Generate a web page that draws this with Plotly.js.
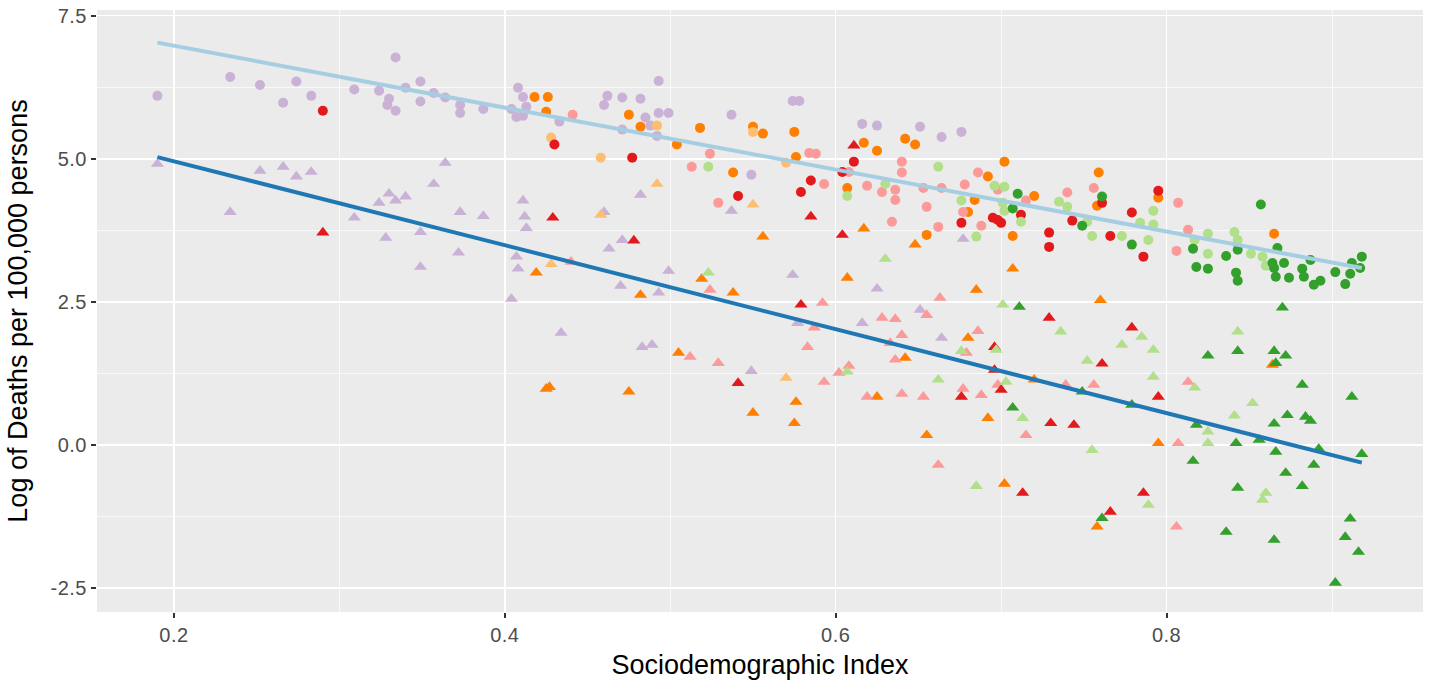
<!DOCTYPE html>
<html>
<head>
<meta charset="utf-8">
<script src="https://cdn.plot.ly/plotly-3.0.1.min.js"></script>
<style>
html,body{margin:0;padding:0;background:#fff;}
#chart{width:1430px;height:685px;}
#chart .xtick text, #chart .ytick text { letter-spacing: 0.5px; }
</style>
</head>
<body>
<div id="chart"></div>
<script>
// ---- Data ----
const xTicks = [0.2, 0.4, 0.6, 0.8];
const xTickText = ["0.2", "0.4", "0.6", "0.8"];
const yTicks = [-2.5, 0, 2.5, 5, 7.5];
const yTickText = ["-2.5", "0.0", "2.5", "5.0", "7.5"];

// Circles (upper group)
const purpleCircX = [0.190,0.234,0.252,0.274,0.266,0.283,0.309,0.324,0.334,0.330,0.329,0.334,0.340,0.349,0.349,0.357,0.364,0.373,0.373,0.387,0.408,0.411,0.413,0.404,0.407,0.411,0.433,0.462,0.460,0.471,0.482,0.493,0.493,0.499,0.485,0.488,0.471,0.492,0.537,0.549,0.574,0.578,0.616,0.625,0.651,0.664,0.676];
const purpleCircY = [6.10,6.43,6.29,6.35,5.98,6.10,6.21,6.19,6.77,6.05,5.94,5.84,6.24,6.35,6.00,6.15,6.07,5.94,5.80,5.87,6.24,6.08,5.91,5.87,5.73,5.75,5.65,6.10,5.94,6.07,6.05,6.36,5.80,5.80,5.72,5.58,5.51,5.40,5.77,4.72,6.01,6.01,5.61,5.58,5.56,5.38,5.47];

const orangeCircX = [0.418,0.426,0.425,0.475,0.482,0.504,0.518,0.538,0.550,0.556,0.575,0.576,0.617,0.625,0.607,0.642,0.648,0.692,0.684,0.680,0.655,0.702,0.720,0.707,0.759,0.758,0.795,0.865];
const orangeCircY = [6.08,6.08,5.82,5.77,5.56,5.25,5.54,4.76,5.56,5.44,5.47,5.03,5.28,5.14,4.49,5.35,5.25,4.69,4.28,4.07,3.67,4.95,4.35,3.65,4.76,4.18,4.32,3.69];

const lightOrangeCircX = [0.428,0.492,0.458,0.550,0.570];
const lightOrangeCircY = [5.37,5.58,5.02,5.47,4.93];

const redCircX = [0.290,0.430,0.477,0.541,0.585,0.579,0.604,0.611,0.676,0.712,0.695,0.698,0.700,0.729,0.729,0.743,0.761,0.766,0.779,0.786,0.795];
const redCircY = [5.84,5.25,5.02,4.35,4.62,4.42,4.77,4.95,3.88,4.02,3.97,3.93,3.88,3.71,3.46,3.92,4.23,3.65,4.06,3.29,4.44];

const pinkCircX = [0.441,0.524,0.513,0.529,0.584,0.588,0.593,0.608,0.619,0.628,0.636,0.636,0.634,0.640,0.640,0.653,0.664,0.655,0.678,0.686,0.677,0.688,0.662,0.698,0.715,0.740,0.756,0.807,0.813,0.806];
const pinkCircY = [5.77,5.09,4.86,4.23,5.10,5.09,4.56,4.77,4.53,4.42,4.46,4.28,3.90,4.95,4.76,4.49,4.49,4.16,4.55,4.76,4.07,3.83,3.81,4.46,4.27,4.41,4.49,4.23,3.76,3.39];

const lightGreenCircX = [0.523,0.607,0.630,0.662,0.676,0.685,0.696,0.702,0.701,0.702,0.712,0.735,0.740,0.752,0.755,0.773,0.784,0.789,0.792,0.792,0.817,0.825,0.825,0.841,0.843,0.851,0.858,0.860];
const lightGreenCircY = [4.86,4.35,4.56,4.86,4.27,3.64,4.53,4.51,4.23,4.09,3.90,4.25,4.16,3.90,3.65,3.65,3.88,3.58,4.09,3.85,3.58,3.69,3.34,3.72,3.58,3.34,3.29,3.13];

const greenCircX = [0.710,0.707,0.749,0.761,0.779,0.816,0.818,0.825,0.836,0.843,0.842,0.843,0.857,0.867,0.864,0.871,0.865,0.866,0.874,0.882,0.883,0.887,0.889,0.893,0.902,0.908,0.911,0.912,0.918,0.917];
const greenCircY = [4.39,4.13,3.83,4.34,3.50,3.43,3.11,3.08,3.30,3.41,3.01,2.87,4.20,3.44,3.18,3.18,3.09,2.94,2.92,3.08,2.94,3.23,2.80,2.87,3.02,2.81,2.99,3.18,3.29,3.09];

// Triangles (lower group)
const purpleTriX = [0.190,0.234,0.252,0.266,0.274,0.283,0.309,0.324,0.330,0.334,0.340,0.328,0.349,0.349,0.357,0.364,0.373,0.387,0.372,0.411,0.412,0.413,0.407,0.408,0.404,0.460,0.482,0.471,0.463,0.499,0.470,0.493,0.537,0.574,0.625,0.651,0.434,0.483,0.489,0.549,0.577,0.616,0.664,0.677];
const purpleTriY = [4.91,4.07,4.79,4.86,4.69,4.77,3.97,4.23,4.39,4.27,4.34,3.62,3.72,3.11,4.56,4.93,4.07,4.00,3.36,4.27,3.99,3.79,3.29,3.08,2.55,4.07,4.37,3.58,3.43,3.04,2.78,2.66,4.09,2.97,2.73,2.36,1.96,1.71,1.75,1.29,2.13,2.13,1.87,3.60];

const orangeTriX = [0.419,0.482,0.519,0.538,0.556,0.617,0.607,0.648,0.685,0.505,0.425,0.427,0.475,0.576,0.550,0.575,0.680,0.642,0.625,0.692,0.655,0.707,0.760,0.864,0.720,0.795,0.702,0.758];
const orangeTriY = [3.01,2.62,2.90,2.66,3.64,3.78,2.92,3.50,2.71,1.61,0.98,1.01,0.93,0.75,0.56,0.38,1.87,1.52,0.84,0.47,0.17,3.08,2.53,1.40,1.14,0.03,-0.68,-1.43];

const lightOrangeTriX = [0.458,0.492,0.428,0.550,0.570];
const lightOrangeTriY = [4.02,4.56,3.16,4.20,1.17];

const redTriX = [0.290,0.429,0.478,0.585,0.611,0.604,0.579,0.541,0.676,0.729,0.696,0.779,0.761,0.696,0.700,0.795,0.730,0.744,0.713,0.786,0.766];
const redTriY = [3.71,3.97,3.57,3.99,5.23,3.67,2.45,1.08,0.84,2.22,1.71,2.05,1.42,1.31,0.96,0.84,0.38,0.35,-0.84,-0.84,-1.17];

const pinkTriX = [0.440,0.524,0.663,0.592,0.512,0.529,0.593,0.587,0.583,0.628,0.636,0.655,0.640,0.633,0.686,0.679,0.636,0.608,0.602,0.619,0.640,0.653,0.677,0.688,0.662,0.698,0.739,0.756,0.813,0.715,0.807,0.806];
const pinkTriY = [3.20,2.71,2.57,2.48,1.54,1.43,1.10,2.05,1.71,2.22,2.20,2.27,1.92,1.78,1.99,1.61,1.49,1.38,1.26,0.84,0.89,0.84,0.98,0.87,-0.35,1.05,1.05,1.05,1.10,0.17,0.03,-1.43];

const lightGreenTriX = [0.523,0.630,0.676,0.607,0.662,0.685,0.701,0.736,0.697,0.785,0.773,0.792,0.752,0.703,0.792,0.817,0.713,0.755,0.841,0.825,0.825,0.852,0.860,0.858,0.789,0.843];
const lightGreenTriY = [3.01,3.25,1.64,1.28,1.14,-0.72,2.45,1.98,1.66,1.89,1.75,1.66,1.47,1.10,1.19,1.00,0.47,-0.09,0.51,0.23,0.03,0.73,-0.84,-0.96,-1.05,1.98];

const greenTriX = [0.711,0.870,0.825,0.843,0.865,0.872,0.866,0.707,0.749,0.779,0.818,0.842,0.856,0.865,0.873,0.882,0.884,0.887,0.912,0.866,0.892,0.918,0.816,0.872,0.889,0.882,0.843,0.761,0.836,0.865,0.911,0.908,0.916,0.902];
const greenTriY = [2.41,2.40,1.56,1.64,1.64,1.56,1.43,0.65,0.93,0.70,0.35,0.03,0.09,0.37,0.52,1.05,0.49,0.42,0.84,-0.12,-0.07,-0.16,-0.28,-0.49,-0.35,-0.72,-0.75,-1.28,-1.52,-1.66,-1.29,-1.61,-1.87,-2.41];

// Fitted lines (end points)
const fitX = [0.190, 0.918];
const fitCircleY = [7.03, 3.09];
const fitTriangleY = [5.03, -0.31];

// ---- Styles ----
const COL = {
  purple: '#CAB2D6', orange: '#FF7F00', lightOrange: '#FDBF6F', red: '#E31A1C',
  pink: '#FB9A99', lightGreen: '#B2DF8A', green: '#33A02C',
  lightBlue: '#A6CEE3', blue: '#1F78B4'
};

function pts(x, y, color, symbol) {
  return {
    type: 'scatter', mode: 'markers', x: x, y: y, hoverinfo: 'x+y',
    marker: { color: color, symbol: symbol, size: symbol === 'circle' ? 10 : 11.5, line: { width: 0 } }
  };
}

const traces = [
  pts(purpleCircX, purpleCircY, COL.purple, 'circle'),
  pts(purpleTriX, purpleTriY, COL.purple, 'triangle-up'),
  pts(orangeCircX, orangeCircY, COL.orange, 'circle'),
  pts(orangeTriX, orangeTriY, COL.orange, 'triangle-up'),
  pts(lightOrangeCircX, lightOrangeCircY, COL.lightOrange, 'circle'),
  pts(lightOrangeTriX, lightOrangeTriY, COL.lightOrange, 'triangle-up'),
  pts(pinkCircX, pinkCircY, COL.pink, 'circle'),
  pts(pinkTriX, pinkTriY, COL.pink, 'triangle-up'),
  pts(redCircX, redCircY, COL.red, 'circle'),
  pts(redTriX, redTriY, COL.red, 'triangle-up'),
  pts(lightGreenCircX, lightGreenCircY, COL.lightGreen, 'circle'),
  pts(lightGreenTriX, lightGreenTriY, COL.lightGreen, 'triangle-up'),
  pts(greenCircX, greenCircY, COL.green, 'circle'),
  pts(greenTriX, greenTriY, COL.green, 'triangle-up'),
  { type: 'scatter', mode: 'lines', x: fitX, y: fitCircleY, line: { color: COL.lightBlue, width: 4 }, hoverinfo: 'skip' },
  { type: 'scatter', mode: 'lines', x: fitX, y: fitTriangleY, line: { color: COL.blue, width: 4 }, hoverinfo: 'skip' }
];

const FONT = 'Liberation Sans, Arial, Helvetica, sans-serif';

const layout = {
  width: 1430, height: 685,
  margin: { l: 97, r: 7, t: 10, b: 73 },
  paper_bgcolor: '#FFFFFF', plot_bgcolor: '#EBEBEB',
  showlegend: false,
  font: { family: FONT },
  xaxis: {
    range: [0.1535, 0.955], tickmode: 'array', tickvals: xTicks, ticktext: xTickText,
    showgrid: true, gridcolor: '#FFFFFF', gridwidth: 1.5, zeroline: false, showline: false,
    ticks: 'outside', ticklen: 5, tickwidth: 2, tickcolor: '#333333',
    tickfont: { size: 20, color: '#4D4D4D', family: FONT },
    minor: { tick0: 0.1, dtick: 0.2, showgrid: true, gridcolor: '#FFFFFF', gridwidth: 0.7, ticks: '' },
    title: { text: 'Sociodemographic Index', font: { size: 27, color: '#000000', family: FONT }, standoff: 10 },
    automargin: false
  },
  yaxis: {
    range: [-2.92, 7.60], tickmode: 'array', tickvals: yTicks, ticktext: yTickText,
    showgrid: true, gridcolor: '#FFFFFF', gridwidth: 1.5, zeroline: false, showline: false,
    ticks: 'outside', ticklen: 5, tickwidth: 2, tickcolor: '#333333',
    tickfont: { size: 20, color: '#4D4D4D', family: FONT },
    minor: { tick0: 1.25, dtick: 2.5, showgrid: true, gridcolor: '#FFFFFF', gridwidth: 0.7, ticks: '' },
    title: { text: 'Log of Deaths per 100,000 persons', font: { size: 27, color: '#000000', family: FONT }, standoff: 17 },
    automargin: false
  }
};

Plotly.newPlot('chart', traces, layout, { displayModeBar: false, staticPlot: true });
</script>
</body>
</html>
